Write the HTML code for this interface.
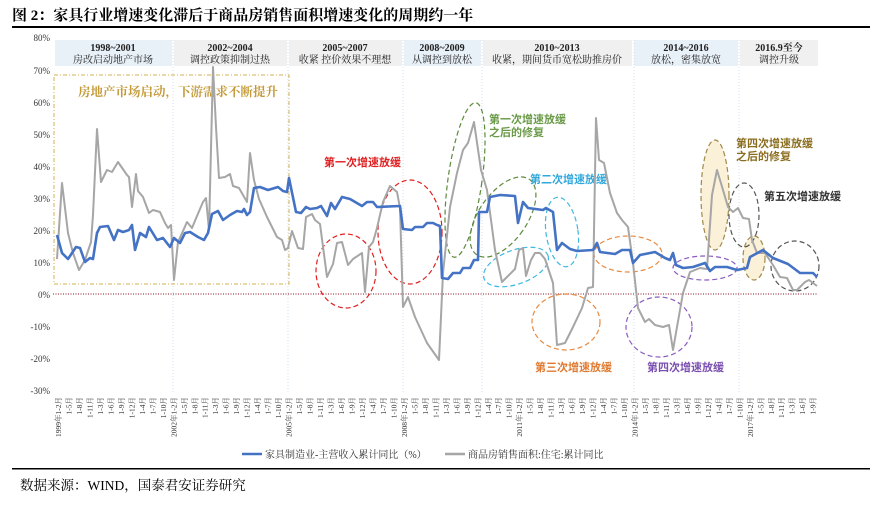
<!DOCTYPE html>
<html><head><meta charset="utf-8"><style>
body{margin:0;background:#fff;}
svg{display:block;font-family:"Liberation Serif","Noto Serif CJK SC",serif;}
</style></head><body>
<svg width="879" height="521" viewBox="0 0 879 521" xmlns="http://www.w3.org/2000/svg">
<text x="12" y="20" font-size="15" font-weight="bold">图 2：家具行业增速变化滞后于商品房销售面积增速变化的周期约一年</text>
<rect x="12" y="26" width="858" height="2" fill="#000"/>
<g font-size="10" font-weight="bold" text-anchor="middle" fill="#222">
<rect x="55" y="40" width="117" height="26" fill="#e8f0f8"/>
<rect x="174" y="40" width="113" height="26" fill="#f0f0f0"/>
<rect x="289" y="40" width="113" height="26" fill="#f0f0f0"/>
<rect x="404" y="40" width="77" height="26" fill="#e8f0f8"/>
<rect x="483" y="40" width="149" height="26" fill="#f0f0f0"/>
<rect x="634" y="40" width="104" height="26" fill="#e8f0f8"/>
<rect x="740" y="40" width="78" height="26" fill="#f0f0f0"/>
<text x="113" y="51">1998~2001</text><text x="113" y="63" font-weight="normal">房改启动地产市场</text>
<text x="230" y="51">2002~2004</text><text x="230" y="63" font-weight="normal">调控政策抑制过热</text>
<text x="345" y="51">2005~2007</text><text x="345" y="63" font-weight="normal">收紧 控价效果不理想</text>
<text x="442" y="51">2008~2009</text><text x="442" y="63" font-weight="normal">从调控到放松</text>
<text x="557" y="51">2010~2013</text><text x="557" y="63" font-weight="normal">收紧，期间货币宽松助推房价</text>
<text x="686" y="51">2014~2016</text><text x="686" y="63" font-weight="normal">放松，密集放宽</text>
<text x="779" y="51">2016.9至今</text><text x="779" y="63" font-weight="normal">调控升级</text>
</g>
<g stroke="#cfe0f0" stroke-dasharray="1,2" stroke-width="1">
<line x1="173" y1="40" x2="173" y2="392"/><line x1="288" y1="40" x2="288" y2="392"/>
<line x1="403" y1="40" x2="403" y2="392"/><line x1="482" y1="40" x2="482" y2="392"/>
<line x1="634" y1="40" x2="634" y2="392"/><line x1="739" y1="40" x2="739" y2="392"/>
</g>
<g font-size="9" text-anchor="end" fill="#333">
<text x="50" y="41">80%</text><text x="50" y="74">70%</text><text x="50" y="106">60%</text>
<text x="50" y="138">50%</text><text x="50" y="170">40%</text><text x="50" y="202">30%</text>
<text x="50" y="234">20%</text><text x="50" y="266">10%</text><text x="50" y="298">0%</text>
<text x="50" y="330">-10%</text><text x="50" y="362">-20%</text><text x="50" y="394">-30%</text>
</g>
<line x1="53" y1="294" x2="818" y2="294" stroke="#a0404a" stroke-dasharray="1,1.5" stroke-width="1.2"/>
<rect x="54" y="75" width="235" height="209" fill="none" stroke="#d4b050" stroke-dasharray="4,2,1,2" stroke-width="1"/>
<text x="78" y="96" font-size="12.5" font-weight="bold" fill="#c49a38">房地产市场启动，下游需求不断提升</text>
<g fill="none" stroke-dasharray="5,3" stroke-width="1.2">
<ellipse cx="715" cy="195" rx="14" ry="55" fill="#fbf0d8" stroke="#a0894a"/>
<ellipse cx="754" cy="258" rx="11" ry="22" fill="#fbf0d8" stroke="#a0894a"/>
<ellipse cx="346" cy="271" rx="30" ry="37" stroke="#e02020"/>
<ellipse cx="410" cy="232" rx="32" ry="52" stroke="#e02020"/>
<ellipse cx="465" cy="180" rx="17" ry="78" stroke="#5c8a3a" transform="rotate(8 465 180)"/>
<ellipse cx="503" cy="217" rx="24" ry="46" stroke="#5c8a3a" transform="rotate(35 503 217)"/>
<ellipse cx="516" cy="267" rx="34" ry="17" stroke="#40b8e0" transform="rotate(-20 516 267)"/>
<ellipse cx="562" cy="232" rx="16" ry="35" stroke="#40b8e0" transform="rotate(-8 562 232)"/>
<ellipse cx="628" cy="254" rx="34" ry="18" stroke="#e88a40"/>
<ellipse cx="566" cy="322" rx="34" ry="28" stroke="#e88a40"/>
<ellipse cx="705" cy="268" rx="32" ry="12" stroke="#8a5cc0"/>
<ellipse cx="659" cy="327" rx="33" ry="30" stroke="#8a5cc0"/>
<ellipse cx="744" cy="215" rx="15" ry="32" stroke="#555"/>
<ellipse cx="795" cy="266" rx="24" ry="25" stroke="#555"/>
</g>
<g font-size="11" font-family="Liberation Sans,Noto Sans CJK SC,sans-serif" font-weight="bold">
<text x="324" y="166" fill="#e02020">第一次增速放缓</text>
<text x="489" y="123" fill="#6a9a48">第一次增速放缓</text><text x="489" y="136" fill="#6a9a48">之后的修复</text>
<text x="530" y="183" fill="#30a8dc">第二次增速放缓</text>
<text x="535" y="371" fill="#e07a30">第三次增速放缓</text>
<text x="647" y="371" fill="#7a4fb0">第四次增速放缓</text>
<text x="736" y="147" fill="#8a6d1e">第四次增速放缓</text><text x="736" y="160" fill="#8a6d1e">之后的修复</text>
<text x="764" y="200" fill="#333">第五次增速放缓</text>
</g>
<polyline fill="none" stroke="#a6a6a6" stroke-width="2" stroke-linejoin="round" points="57,259 62,183 68,233 73,253 79,270 85,260 91,242 93,215 97,129 101,182 107,170 112,172 118,162 127,175 129,177 132,207 136,174 138,191 143,197 149,213 153,210 160,212 165,223 168,228 171,225 174,280 178,242 183,231 187,222 192,228 197,216 203,202 206,198 209,230 213,67 216,127 219,178 225,177 230,174 233,186 239,188 247,202 250,153 254,180 259,199 267,217 277,237 282,240 285,250 288,248 292,231 298,248 303,249 306,217 312,214 315,220 320,224 327,277 333,264 337,243 342,242 348,265 353,259 362,253 365,292 369,247 373,242 377,228 383,202 390,186 397,192 400,208 403,307 408,297 415,317 427,343 439,360 443,273 450,207 457,173 463,150 468,143 474,122 481,170 487,190 495,250 502,282 507,277 515,269 519,250 523,248 526,276 531,260 535,253 540,253 545,259 553,283 557,345 565,343 573,327 582,308 588,288 593,287 596,118 599,160 604,163 610,193 617,213 622,220 628,227 633,263 638,308 645,322 649,319 655,325 663,327 669,325 673,350 677,327 683,293 690,272 700,268 707,269 712,195 717,170 723,190 728,207 733,212 738,208 743,218 749,219 752,240 757,253 765,253 773,265 780,277 787,278 793,290 797,290 805,282 809,280 817,286"/>
<polyline fill="none" stroke="#4472c4" stroke-width="2.6" stroke-linejoin="round" points="57,235 62,253 68,259 76,247 80,248 85,262 90,258 93,259 97,233 100,227 108,226 114,240 118,230 123,232 129,230 132,225 135,250 140,233 146,237 149,227 157,240 163,238 170,247 174,238 180,243 185,233 190,232 198,237 204,240 208,233 212,214 218,211 223,220 230,215 237,211 242,212 244,209 247,215 250,212 254,188 260,187 268,190 278,187 283,191 287,192 289,178 296,212 301,213 306,207 310,209 317,208 321,206 327,216 331,203 335,209 342,197 350,199 362,206 367,202 373,202 377,207 400,206 403,229 412,230 415,227 423,227 427,223 433,223 437,225 440,226 442,278 448,279 453,273 460,273 463,268 470,268 474,260 478,260 479,212 487,212 490,197 500,195 515,196 518,223 523,202 528,208 543,210 546,208 553,212 557,250 562,243 570,249 577,251 593,250 597,243 600,252 615,254 622,250 630,250 633,263 640,255 655,252 665,258 670,260 673,253 676,265 683,268 693,267 705,263 710,271 715,267 727,267 737,270 747,268 750,257 763,250 773,258 788,264 800,273 813,273 817,277"/>
<g id="xl" font-size="7.5" fill="#333"></g>
<line x1="242" y1="454" x2="262" y2="454" stroke="#4472c4" stroke-width="2.6"/>
<text x="265" y="458" font-size="10" fill="#333">家具制造业-主营收入累计同比（%）</text>
<line x1="445" y1="454" x2="465" y2="454" stroke="#a6a6a6" stroke-width="2.6"/>
<text x="468" y="458" font-size="10" fill="#333">商品房销售面积:住宅:累计同比</text>
<rect x="12" y="468" width="858" height="1.5" fill="#000"/>
<text x="20" y="490" font-size="13.5" fill="#000">数据来源：WIND，国泰君安证券研究</text>
</svg>
<script>
var g=document.getElementById('xl'),ns='http://www.w3.org/2000/svg';
var m=['1-2月','1-5月','1-8月','1-11月','1-3月','1-6月','1-9月','1-12月','1-4月','1-7月','1-10月'];
var step=115.3/11;
for(var b=0;b<7;b++){for(var i=0;i<11;i++){var x=58+b*115.3+i*step;if(x>822)break;
var t=document.createElementNS(ns,'text');t.setAttribute('transform','translate('+(x+3)+',397) rotate(-90)');
t.setAttribute('text-anchor','end');t.textContent=(i==0?(1999+3*b)+'年':'')+m[i];g.appendChild(t);}}
</script>
</body></html>
